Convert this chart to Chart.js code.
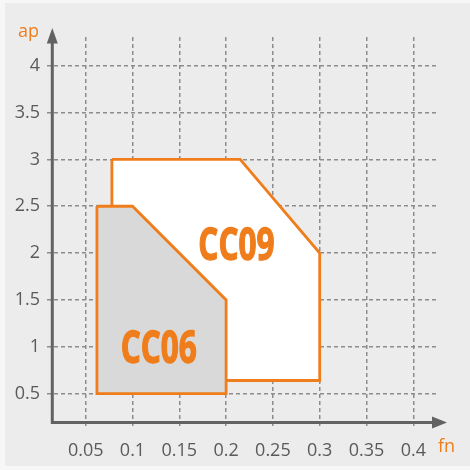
<!DOCTYPE html>
<html>
<head>
<meta charset="utf-8">
<script src="https://cdn.jsdelivr.net/npm/chart.js@4.4.1/dist/chart.umd.min.js"></script>
<style>
  html, body { margin: 0; padding: 0; background: #f7f7f7; }
  #panel { position: absolute; left: 5px; top: 3px; width: 465px; height: 463px; background: #ececec; }
  canvas { position: absolute; left: 0; top: 0; }
</style>
</head>
<body>
<div id="panel"></div>
<canvas id="chart" width="470" height="470"></canvas>
<script>
// ticks on both axes
const fnTicks = [0.05, 0.1, 0.15, 0.2, 0.25, 0.3, 0.35, 0.4];
const fnLabels = ["0.05", "0.1", "0.15", "0.2", "0.25", "0.3", "0.35", "0.4"];
const apTicks = [0.5, 1, 1.5, 2, 2.5, 3, 3.5, 4];
const apLabels = ["0.5", "1", "1.5", "2", "2.5", "3", "3.5", "4"];

// working areas (closed outlines, fn / ap)
const cc09Fn = [0.078, 0.215, 0.3, 0.3, 0.078, 0.078];
const cc09Ap = [3, 3, 2, 0.64, 0.64, 3];
const cc06Fn = [0.062, 0.1, 0.2, 0.2, 0.062, 0.062];
const cc06Ap = [2.5, 2.5, 1.5, 0.5, 0.5, 2.5];

const regionNames = ["CC09", "CC06"];
const regionNameFn = [0.211, 0.128];
const regionNameAp = [2.1, 1.0];

const ORANGE = "#ef7d1b";
const AXIS = "#626262";
const TEXT = "#5a5a5a";

function toPoints(xs, ys) {
  return xs.map((x, i) => ({ x: x, y: ys[i] }));
}

// axis lines with arrow heads, crossing at (axisFn, axisAp)
const axisFn = 0.0143;
const axisAp = 0.192;

const axesPlugin = {
  id: "arrowAxes",
  afterDraw(chart) {
    const ctx = chart.ctx;
    const xs = chart.scales.x;
    const ys = chart.scales.y;
    const ox = xs.getPixelForValue(axisFn);
    const oy = ys.getPixelForValue(axisAp);
    ctx.save();
    ctx.strokeStyle = AXIS;
    ctx.fillStyle = AXIS;
    ctx.lineWidth = 3;
    ctx.beginPath();
    ctx.moveTo(ox, 42);
    ctx.lineTo(ox, oy);
    ctx.lineTo(433, oy);
    ctx.stroke();
    // arrow heads
    ctx.beginPath();
    ctx.moveTo(ox, 28);
    ctx.lineTo(ox - 5.5, 43.5);
    ctx.lineTo(ox + 5.5, 43.5);
    ctx.closePath();
    ctx.fill();
    ctx.beginPath();
    ctx.moveTo(447, oy);
    ctx.lineTo(432, oy - 6);
    ctx.lineTo(432, oy + 6);
    ctx.closePath();
    ctx.fill();

    // axis names
    ctx.fillStyle = ORANGE;
    ctx.font = "18px 'Open Sans'";
    ctx.textAlign = "center";
    ctx.textBaseline = "middle";
    ctx.fillText("ap", 28.5, 32);
    ctx.fillText("fn", 446.5, 447);

    // region names, condensed and a little heavier
    ctx.font = "bold 45px 'Open Sans'";
    ctx.textAlign = "center";
    ctx.textBaseline = "alphabetic";
    ctx.strokeStyle = ORANGE;
    ctx.lineWidth = 1.4;
    ctx.lineJoin = "round";
    regionNames.forEach((name, i) => {
      const px = xs.getPixelForValue(regionNameFn[i]);
      const py = ys.getPixelForValue(regionNameAp[i]);
      const m = ctx.measureText(name);
      ctx.save();
      ctx.translate(px, py + m.actualBoundingBoxAscent / 2);
      ctx.scale(0.7, 1);
      ctx.fillText(name, 0, 0);
      ctx.strokeText(name, 0, 0);
      ctx.restore();
    });
    ctx.restore();
  }
};

new Chart(document.getElementById("chart"), {
  type: "scatter",
  data: {
    datasets: [
      {
        label: "CC06",
        data: toPoints(cc06Fn, cc06Ap),
        showLine: true,
        fill: "shape",
        backgroundColor: "#d9d9d9",
        borderColor: ORANGE,
        borderWidth: 2.8,
        pointRadius: 0,
        tension: 0,
        order: 0
      },
      {
        label: "CC09",
        data: toPoints(cc09Fn, cc09Ap),
        showLine: true,
        fill: "shape",
        backgroundColor: "#ffffff",
        borderColor: ORANGE,
        borderWidth: 2.8,
        pointRadius: 0,
        tension: 0,
        order: 1
      }
    ]
  },
  options: {
    responsive: false,
    animation: false,
    layout: { padding: { top: 37, right: 33.3, left: 0, bottom: 0 } },
    plugins: {
      legend: { display: false },
      tooltip: { enabled: false }
    },
    scales: {
      x: {
        type: "linear",
        min: 0.00865,
        max: 0.425,
        afterBuildTicks(scale) {
          scale.ticks = fnTicks.map((v) => ({ value: v }));
        },
        afterFit(scale) {
          scale.height = 43;
        },
        ticks: {
          autoSkip: false,
          maxRotation: 0,
          padding: 13,
          color: TEXT,
          font: { family: "'Open Sans'", size: 18 },
          callback: (v) => fnLabels[fnTicks.indexOf(v)]
        },
        grid: { color: "#8c8c8c", lineWidth: 1.5, drawTicks: false, tickLength: 0 },
        border: { display: false, dash: [4, 3] }
      },
      y: {
        type: "linear",
        min: 0.144,
        max: 4.306,
        afterBuildTicks(scale) {
          scale.ticks = apTicks.map((v) => ({ value: v }));
        },
        afterFit(scale) {
          scale.width = 47;
        },
        ticks: {
          autoSkip: false,
          padding: 7,
          color: TEXT,
          font: { family: "'Open Sans'", size: 18 },
          callback: (v) => apLabels[apTicks.indexOf(v)]
        },
        grid: { color: "#8c8c8c", lineWidth: 1.5, drawTicks: false, tickLength: 0 },
        border: { display: false, dash: [4, 3] }
      }
    }
  },
  plugins: [axesPlugin]
});
</script>
</body>
</html>
